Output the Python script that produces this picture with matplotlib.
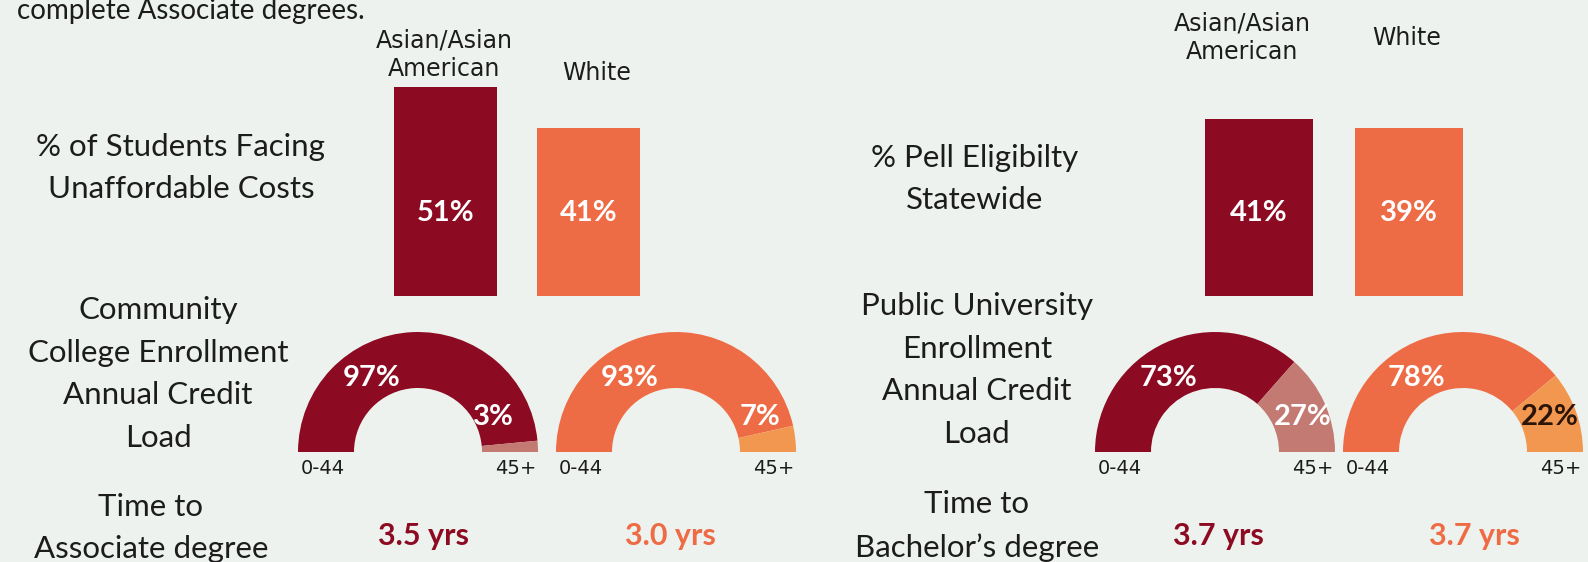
import numpy as np
import matplotlib
matplotlib.use("Agg")
import matplotlib.pyplot as plt


# groups compared in both panels
groups = ["Asian/Asian\nAmerican", "White"]

# % of students facing unaffordable costs / % Pell eligible
unaffordable = [51, 41]
pell = [41, 39]

# annual credit load split, 0-44 credits vs 45+ credits
cc_load_low = [97, 93]
cc_load_high = [3, 7]
univ_load_low = [73, 78]
univ_load_high = [27, 22]

# years to degree
years_assoc = [3.5, 3.0]
years_bach = [3.7, 3.7]

load_ticks = ["0-44", "45+"]


W, H = 1588, 562
BG = "#eef2ee"
TXT = "#1c1c1c"
MAROON = "#8c0b22"
MAROON_LT = "#c27a72"
ORANGE = "#ee6c45"
ORANGE_LT = "#f1974f"
main_colors = [MAROON, ORANGE]

FONT = "Lato"
plt.rcParams["font.family"] = [FONT, "DejaVu Sans"]

fig = plt.figure(figsize=(W / 100, H / 100), dpi=100, facecolor=BG)


def fx(x):
    return x / W


def fy(y):
    return 1 - y / H


def label(x, y, s, size=22.5, weight="normal", color=TXT, family=None, ls=1.2):
    kw = {}
    if family:
        kw["family"] = family
    fig.text(fx(x), fy(y), s, ha="center", va="center", fontsize=size,
             fontweight=weight, color=color, linespacing=ls, **kw)


def bar_panel(left, right, baseline, px_per_pct, values, height=240):
    ax = fig.add_axes([fx(left), fy(baseline), (right - left) / W, height / H])
    ax.bar(range(len(values)), values, width=0.72, color=main_colors)
    ax.set_xlim(-0.36, len(values) - 1 + 0.36)
    ax.set_ylim(0, height / px_per_pct)
    ax.axis("off")
    # value labels sit at a fixed height inside each bar
    for i, v in enumerate(values):
        ax.text(i, 83 / px_per_pct, f"{v}%", ha="center", va="center",
                color="white", fontsize=21, fontweight="bold")
    return ax


def gauge(cx, cy, low, high, c_main, c_light, high_txt="white", r=120, inner=64,
          hx=0.70):
    ax = fig.add_axes([fx(cx - r), fy(cy + r), 2 * r / W, 2 * r / H])
    # half donut: the hidden third wedge takes the lower half
    ax.pie([low, high, low + high], startangle=180, counterclock=False,
           colors=[c_main, c_light, "none"], radius=1,
           wedgeprops=dict(width=(r - inner) / r, linewidth=0))
    ax.set_xlim(-1, 1)
    ax.set_ylim(-1, 1)
    ax.text(-0.39, 0.62, f"{low}%", ha="center", va="center", color="white",
            fontsize=21, fontweight="bold")
    ax.text(hx, 0.29, f"{high}%", ha="center", va="center", color=high_txt,
            fontsize=21, fontweight="bold")
    # tick labels under both ends
    fig.text(fx(cx - r + 3), fy(cy + 17), load_ticks[0], ha="left", va="center",
             fontsize=14, color=TXT, family="DejaVu Sans")
    fig.text(fx(cx + r - 2), fy(cy + 17), load_ticks[1], ha="right", va="center",
             fontsize=14, color=TXT, family="DejaVu Sans")


# header line cut off at the top
fig.text(fx(17), fy(19), "complete Associate degrees.", ha="left", va="baseline",
         fontsize=20, color=TXT)

# ---- left panel: community college ----
label(444, 55, groups[0], size=17, family="Liberation Sans Narrow", ls=1.25)
label(597, 73, groups[1], size=17, family="Liberation Sans Narrow")
label(181, 168, "% of Students Facing\nUnaffordable Costs", ls=1.62)
bar_panel(394, 640, 296, 4.09, unaffordable)

label(158, 374, "Community\nCollege Enrollment\nAnnual Credit\nLoad", ls=1.64)
gauge(418, 452, cc_load_low[0], cc_load_high[0], MAROON, MAROON_LT, hx=0.63)
gauge(676, 452, cc_load_low[1], cc_load_high[1], ORANGE, ORANGE_LT)

label(151, 528, "Time to\nAssociate degree", ls=1.6)
label(424, 536, f"{years_assoc[0]:.1f} yrs", size=22, weight="bold", color=MAROON)
label(670, 536, f"{years_assoc[1]:.1f} yrs", size=22, weight="bold", color=ORANGE)

# ---- right panel: public university ----
label(1242, 38, groups[0], size=17, family="Liberation Sans Narrow", ls=1.25)
label(1407, 38, groups[1], size=17, family="Liberation Sans Narrow")
label(975, 179, "% Pell Eligibilty\nStatewide", ls=1.62)
bar_panel(1205, 1463, 296, 4.31, pell)

label(977, 370, "Public University\nEnrollment\nAnnual Credit\nLoad", ls=1.64)
gauge(1215, 452, univ_load_low[0], univ_load_high[0], MAROON, MAROON_LT, hx=0.73)
gauge(1463, 452, univ_load_low[1], univ_load_high[1], ORANGE, ORANGE_LT,
      high_txt="#2b1408", hx=0.72)

label(977, 526, "Time to\nBachelor\u2019s degree", ls=1.6)
label(1218, 536, f"{years_bach[0]:.1f} yrs", size=22, weight="bold", color=MAROON)
label(1474, 536, f"{years_bach[1]:.1f} yrs", size=22, weight="bold", color=ORANGE)

fig.savefig("out.png", dpi=100, facecolor=BG)
